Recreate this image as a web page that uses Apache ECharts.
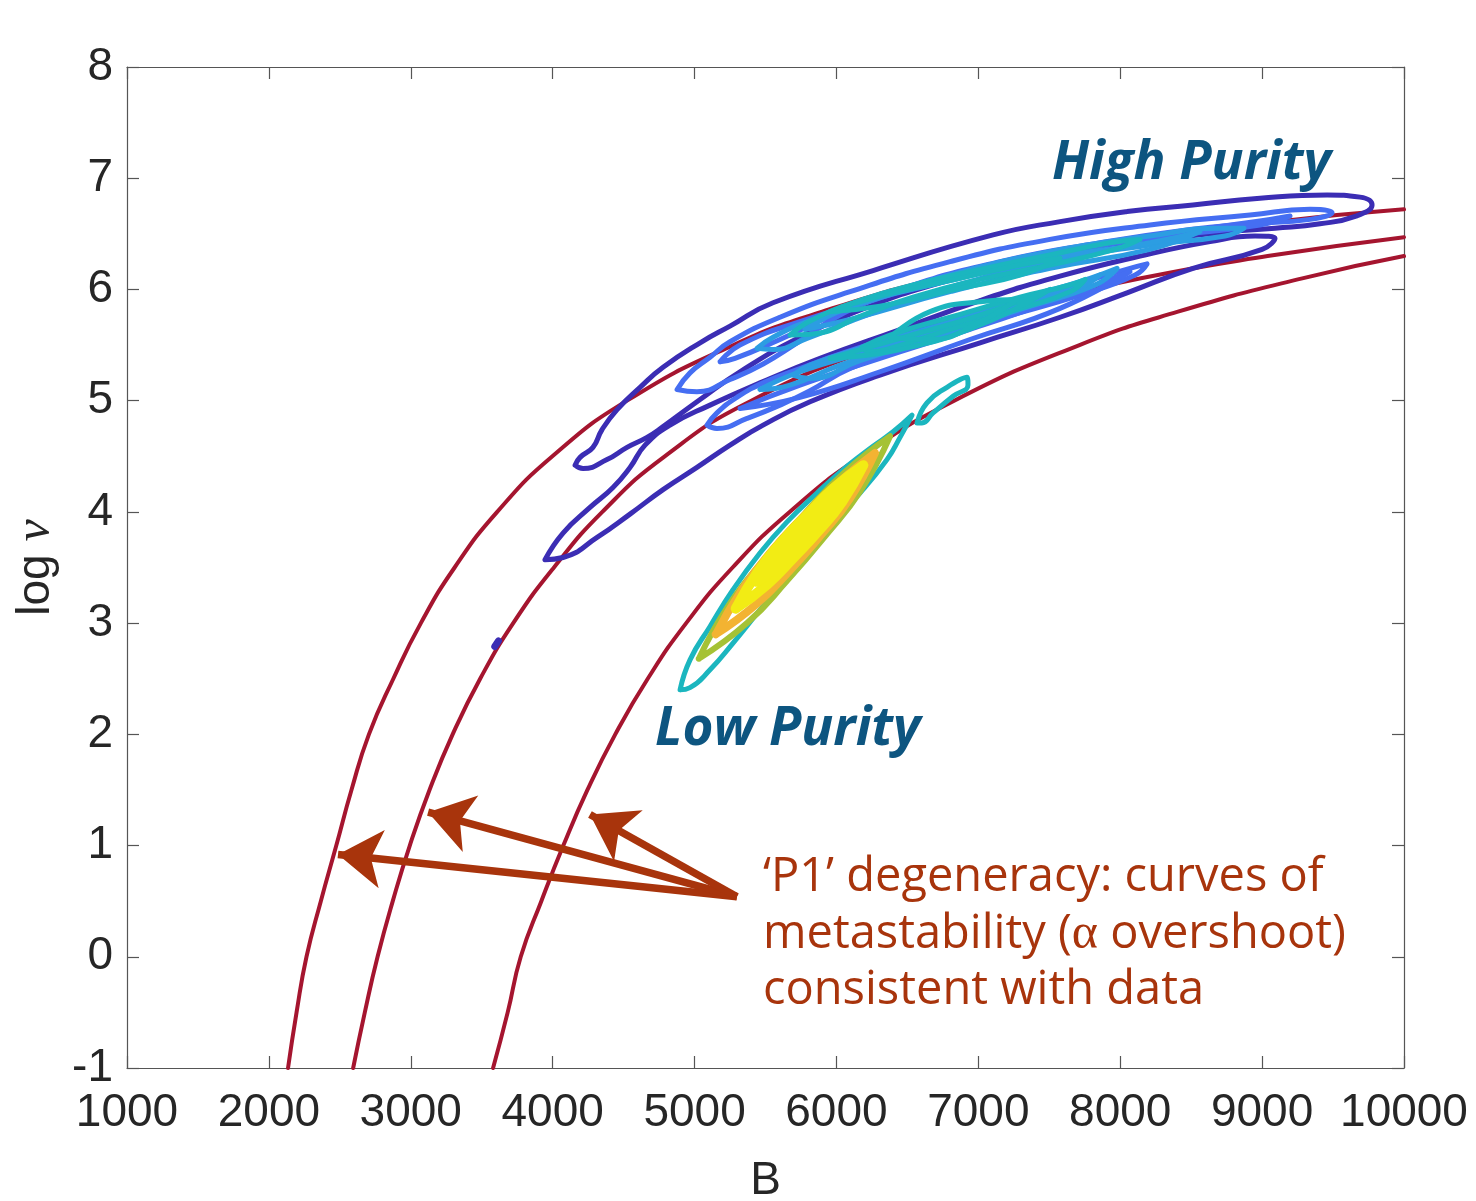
<!DOCTYPE html>
<html>
<head>
<meta charset="utf-8">
<script src="https://cdn.jsdelivr.net/npm/echarts/dist/echarts.min.js"></script>
<style>
html,body{margin:0;padding:0;background:#ffffff;}
#chart{width:1476px;height:1201px;}
</style>
</head>
<body>
<div id="chart"></div>
<script>
// ---------------- axes ----------------
const xRange = [1000, 10000];
const xStep = 1000;
const yRange = [-1, 8];
const yStep = 1;

// ---------------- red "P1" degeneracy curves  [B, log nu] ----------------
const redCurveA = [[2135,-1],[2195,-0.5],[2265,0],[2366,0.5],[2475,1],[2582,1.5],[2705,2],[2877,2.5],[3071,3],[3309,3.5],[3609,4],[3998,4.5],[4524,5],[5274,5.5],[5900,5.8],[6739,6.1],[7927,6.4],[9035,6.6],[10000,6.72]];
const redCurveB = [[2594,-1],[2676,-0.5],[2766,0],[2873,0.5],[2993,1],[3132,1.5],[3295,2],[3489,2.5],[3722,3],[4009,3.5],[4350,4],[4790,4.5],[5400,5],[6330,5.5],[7133,5.8],[8146,6.1],[9039,6.3],[10000,6.47]];
const redCurveC = [[3580,-1],[3683,-0.5],[3775,0],[3920,0.5],[4075,1],[4245,1.5],[4441,2],[4670,2.5],[4941,3],[5268,3.5],[5670,4],[6175,4.5],[6830,5],[7713,5.5],[8407,5.8],[9283,6.1],[10000,6.3]];

// ---------------- High purity contours ----------------
const hpDarkUpper = [[4158,4.42],[4193,4.49],[4284,4.58],[4348,4.74],[4454,4.92],[4616,5.12],[4778,5.30],[5039,5.52],[5250,5.67],[5553,5.88],[6258,6.17],[7104,6.49],[7576,6.61],[8048,6.70],[8513,6.76],[8985,6.82],[9458,6.85],[9690,6.83],[9775,6.76],[9662,6.66],[9408,6.59],[9091,6.55],[8774,6.52],[8351,6.46],[7858,6.37],[7294,6.25],[6730,6.06],[6237,5.85],[5743,5.57],[5320,5.26],[5039,5.01],[4771,4.76],[4665,4.67],[4524,4.58],[4383,4.47],[4214,4.39]];
const hpDarkLower = [[3946,3.57],[4073,3.81],[4263,4.04],[4425,4.22],[4545,4.40],[4651,4.60],[4827,4.78],[5109,4.96],[5461,5.16],[5884,5.38],[6448,5.64],[7012,5.90],[7576,6.12],[8140,6.30],[8633,6.43],[8950,6.48],[9091,6.46],[9000,6.36],[8513,6.19],[8048,5.97],[7576,5.75],[7012,5.52],[6307,5.23],[5814,4.99],[5483,4.78],[5250,4.60],[5017,4.40],[4778,4.20],[4545,3.98],[4313,3.77],[4073,3.59]];
const hpDarkDot = [[3592,2.79],[3618,2.84]];
const hpMidUpper = [[4877,5.10],[4968,5.25],[5109,5.39],[5250,5.53],[5602,5.75],[6096,5.98],[6801,6.25],[7505,6.45],[8210,6.58],[8915,6.67],[9338,6.72],[9493,6.69],[9338,6.63],[8915,6.59],[8492,6.54],[7858,6.42],[7153,6.25],[6448,6.00],[6025,5.77],[5723,5.52],[5483,5.33],[5250,5.19],[5017,5.08]];
const hpMidUpper2 = [[5180,5.35],[5320,5.50],[5743,5.71],[6448,5.98],[7153,6.22],[7858,6.40],[8562,6.54],[9056,6.63],[9197,6.66],[8985,6.58],[8210,6.46],[7505,6.31],[6801,6.10],[6096,5.83],[5602,5.55],[5285,5.38]];
const hpMidLower = [[5088,4.78],[5158,4.89],[5299,5.03],[5483,5.16],[5723,5.28],[6096,5.45],[6589,5.64],[7153,5.86],[7717,6.06],[8069,6.19],[8189,6.23],[8105,6.13],[7717,5.95],[7153,5.74],[6589,5.52],[6096,5.29],[5814,5.09],[5602,4.96],[5370,4.84],[5158,4.75]];
const hpMidLower2 = [[5321,4.93],[5743,5.14],[6307,5.38],[6941,5.64],[7576,5.92],[8069,6.16],[7576,5.83],[6941,5.55],[6307,5.26],[5743,5.03]];
const hpLightUpper = [[5440,5.47],[5553,5.57],[5793,5.71],[6237,5.91],[6801,6.13],[7505,6.34],[8210,6.48],[8703,6.55],[8872,6.55],[8739,6.48],[8210,6.40],[7505,6.25],[6801,6.02],[6237,5.78],[5793,5.56],[5553,5.46]];
const hpLightUpper2 = [[5778,5.64],[6096,5.84],[6801,6.08],[7505,6.28],[8210,6.42],[8562,6.52],[8210,6.36],[7505,6.19],[6801,5.98],[6096,5.73]];
const hpLightLower = [[5694,5.23],[5814,5.32],[6166,5.47],[6730,5.68],[7294,5.91],[7787,6.10],[7978,6.19],[7823,6.04],[7294,5.82],[6730,5.58],[6166,5.36],[5814,5.20]];
const hpLightLower2 = [[5461,5.10],[5743,5.26],[6307,5.48],[6871,5.71],[7435,5.93],[7787,6.09],[7858,6.13],[7717,6.02],[7153,5.80],[6589,5.56],[6025,5.32],[5673,5.14]];
const hpTealUpper = [[5673,5.59],[5835,5.73],[6187,5.91],[6540,6.04],[7012,6.18],[7505,6.31],[7928,6.42],[8140,6.45],[7963,6.36],[7505,6.22],[7012,6.09],[6540,5.93],[6187,5.77],[5835,5.60]];
const hpTealUpper2 = [[5955,5.80],[6307,5.94],[6871,6.10],[7294,6.22],[7576,6.28],[7294,6.13],[6871,6.01],[6307,5.85]];
const hpTealLower = [[6180,5.48],[6378,5.59],[6801,5.75],[7294,5.93],[7646,6.04],[7752,6.09],[7646,5.98],[7294,5.83],[6801,5.64],[6378,5.47],[6237,5.44]];
const hpTealLower2 = [[5955,5.38],[6448,5.56],[7012,5.77],[7505,6.00],[7012,5.68],[6448,5.46]];
const hpTealInner = [[6378,5.57],[6660,5.80],[7012,5.89],[7273,5.91],[7012,5.71],[6660,5.55]];

// ---------------- Low purity contours ----------------
const lpTealOuter = [[4898,2.40],[4968,2.67],[5109,2.97],[5271,3.30],[5461,3.63],[5652,3.91],[5863,4.17],[6075,4.41],[6258,4.59],[6399,4.72],[6533,4.87],[6448,4.67],[6356,4.47],[6166,4.17],[5976,3.92],[5814,3.68],[5652,3.42],[5461,3.12],[5271,2.82],[5109,2.58],[4968,2.42]];
const lpTealLoop = [[6568,4.80],[6638,4.98],[6779,5.12],[6920,5.21],[6927,5.14],[6822,5.04],[6681,4.89],[6603,4.80]];
const lpGreen = [[5030,2.68],[5240,3.16],[5495,3.58],[5766,3.97],[6052,4.35],[6378,4.68],[6170,4.19],[5920,3.78],[5652,3.38],[5370,3.00]];
const lpOrange = [[5150,2.90],[5335,3.30],[5545,3.65],[5770,3.96],[6010,4.26],[6272,4.53],[6095,4.12],[5890,3.79],[5670,3.47],[5435,3.17]];
const lpYellow = [[5290,3.13],[5445,3.46],[5612,3.73],[5790,3.97],[5976,4.21],[6190,4.42],[6040,4.09],[5875,3.83],[5700,3.59],[5515,3.35]];
const lpYellowCore = [[5440,3.38],[5580,3.64],[5730,3.86],[5890,4.07],[6070,4.27],[5930,4.00],[5780,3.78],[5622,3.57]];

// ---------------- annotation arrows [from, to] ----------------
const arrowFrom = [5299, 0.54];
const arrowTips = [[2487,0.92],[3122,1.30],[4263,1.28]];

// ---------------- colours ----------------
const C_RED = '#a5152f';
const C_DB = '#3b2db4';
const C_MB = '#456ef2';
const C_LB = '#2c9de2';
const C_TEAL = '#1bb6bf';
const C_GREEN = '#a5c235';
const C_ORANGE = '#f3b332';
const C_YELLOW = '#f2ec14';
const C_ARROW = '#a8340c';
const C_LABEL = '#0d5580';

function closed(d){ return d.concat([d[0]]); }

function curve(data, color, width, z, isClosed){
  return {
    type:'line', data: isClosed ? closed(data) : data, showSymbol:false, symbol:'none',
    smooth: 0.5, z:z, silent:true, animation:false,
    lineStyle:{color:color, width:width, cap:'round', join:'round'},
    itemStyle:{color:color}
  };
}

const W = 5;
const series = [
  curve(redCurveA, C_RED, 4, 2, false),
  curve(redCurveB, C_RED, 4, 2, false),
  curve(redCurveC, C_RED, 4, 2, false),
  curve(hpDarkUpper, C_DB, W, 3, true),
  curve(hpDarkLower, C_DB, W, 3, true),
  curve(hpDarkDot, C_DB, 7, 3, false),
  curve(hpMidUpper, C_MB, W, 4, true),
  curve(hpMidUpper2, C_MB, W, 4, true),
  curve(hpMidLower, C_MB, W, 4, true),
  curve(hpMidLower2, C_MB, W, 4, true),
  curve(hpLightUpper, C_LB, W, 5, true),
  curve(hpLightUpper2, C_LB, W, 5, true),
  curve(hpLightLower, C_LB, W, 5, true),
  curve(hpLightLower2, C_LB, W, 5, true),
  curve(hpTealUpper, C_TEAL, W, 6, true),
  curve(hpTealUpper2, C_TEAL, W, 6, true),
  curve(hpTealLower, C_TEAL, W, 6, true),
  curve(hpTealLower2, C_TEAL, W, 6, true),
  curve(hpTealInner, C_TEAL, W, 6, true),
  curve(lpTealOuter, C_TEAL, W, 6, true),
  curve(lpTealLoop, C_TEAL, W, 6, true),
  curve(lpGreen, C_GREEN, 6, 7, true),
  curve(lpOrange, C_ORANGE, 8, 8, true),
  curve(lpYellow, C_YELLOW, 10, 9, true),
  curve(lpYellowCore, C_YELLOW, 12, 10, true),
  {
    type:'lines', coordinateSystem:'cartesian2d', z:20, silent:true, animation:false,
    symbol:['none','arrow'], symbolSize:[36,44],
    lineStyle:{color:C_ARROW, width:7.5, curveness:0, opacity:1},
    data: arrowTips.map(t => ({coords:[arrowFrom, t]}))
  }
];

const axisCol = '#555555';
const labelFont = 'Liberation Sans, Arial, sans-serif';

const option = {
  animation:false,
  backgroundColor:'#ffffff',
  grid:{left:127, right:72, top:67, bottom:133, containLabel:false, outerBoundsMode:'none'},
  xAxis:[
    {type:'value', min:xRange[0], max:xRange[1], interval:xStep, position:'bottom',
     axisLine:{show:true, onZero:false, lineStyle:{color:axisCol, width:1.2}},
     axisTick:{show:true, inside:true, length:12, lineStyle:{color:axisCol, width:1.2}},
     axisLabel:{show:true, fontSize:46, color:'#262626', fontFamily:labelFont, margin:22,
                formatter: v => String(v)},
     splitLine:{show:false},
     name:'B', nameLocation:'middle', nameGap:90,
     nameTextStyle:{fontSize:46, color:'#262626', fontFamily:labelFont}},
    {type:'value', min:xRange[0], max:xRange[1], interval:xStep, position:'top',
     axisLine:{show:true, onZero:false, lineStyle:{color:axisCol, width:1.2}},
     axisTick:{show:true, inside:true, length:12, lineStyle:{color:axisCol, width:1.2}},
     axisLabel:{show:false}, splitLine:{show:false}}
  ],
  yAxis:[
    {type:'value', min:yRange[0], max:yRange[1], interval:yStep, position:'left',
     axisLine:{show:true, onZero:false, lineStyle:{color:axisCol, width:1.2}},
     axisTick:{show:true, inside:true, length:12, lineStyle:{color:axisCol, width:1.2}},
     axisLabel:{show:true, fontSize:46, color:'#262626', fontFamily:labelFont, margin:14,
                formatter: v => String(v)},
     splitLine:{show:false},
     name:'{a|log }{b|ν}', nameLocation:'middle', nameGap:64,
     nameTextStyle:{color:'#262626', rich:{
       a:{fontSize:46, fontFamily:labelFont, color:'#262626'},
       b:{fontSize:50, fontFamily:'Liberation Serif, serif', fontStyle:'italic', color:'#262626'}
     }}},
    {type:'value', min:yRange[0], max:yRange[1], interval:yStep, position:'right',
     axisLine:{show:true, onZero:false, lineStyle:{color:axisCol, width:1.2}},
     axisTick:{show:true, inside:true, length:12, lineStyle:{color:axisCol, width:1.2}},
     axisLabel:{show:false}, splitLine:{show:false}}
  ],
  series: series.map(s => Object.assign(s, {xAxisIndex:0, yAxisIndex:0})),
  graphic:[
    {type:'text', x:1052, y:164, z:30, silent:true,
     style:{text:'High Purity', fontSize:53, fontFamily:'Open Sans', fontWeight:'bold', fontStyle:'italic',
            fill:C_LABEL, align:'left', verticalAlign:'middle'}},
    {type:'text', x:655, y:730, z:30, silent:true,
     style:{text:'Low Purity', fontSize:53, fontFamily:'Open Sans', fontWeight:'bold', fontStyle:'italic',
            fill:C_LABEL, align:'left', verticalAlign:'middle'}},
    {type:'text', x:763, y:878, z:30, silent:true,
     style:{text:'‘P1’ degeneracy: curves of', fontSize:47, fontFamily:'Open Sans',
            fill:C_ARROW, align:'left', verticalAlign:'middle'}},
    {type:'text', x:763, y:935, z:30, silent:true,
     style:{text:'metastability ({g|α} overshoot)', fontSize:47, fontFamily:'Open Sans',
            fill:C_ARROW, align:'left', verticalAlign:'middle',
            rich:{g:{fontSize:50, fontFamily:'Liberation Serif, serif', fill:C_ARROW}}}},
    {type:'text', x:763, y:991, z:30, silent:true,
     style:{text:'consistent with data', fontSize:47, fontFamily:'Open Sans',
            fill:C_ARROW, align:'left', verticalAlign:'middle'}}
  ]
};

const chart = echarts.init(document.getElementById('chart'), null, {renderer:'canvas'});
chart.setOption(option);
</script>
</body>
</html>
